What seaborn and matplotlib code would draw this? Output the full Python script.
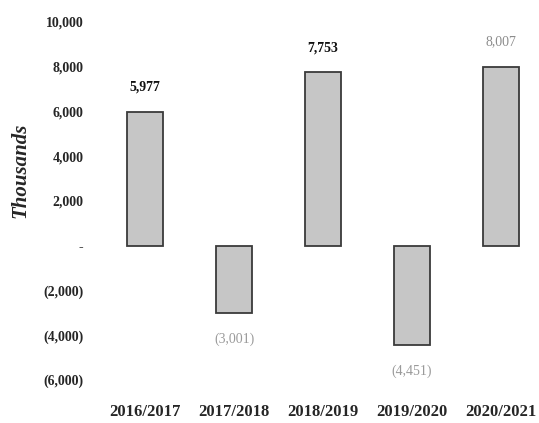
import matplotlib
matplotlib.use("Agg")
import matplotlib.pyplot as plt
import seaborn as sns
import pandas as pd

# Year-on-year change, in thousands
seasons = ["2016/2017", "2017/2018", "2018/2019", "2019/2020", "2020/2021"]
changes = [5977, -3001, 7753, -4451, 8007]
label_colors = ["#111111", "#9a9a9a", "#111111", "#9a9a9a", "#8c8c8c"]
label_weights = ["bold", "normal", "bold", "normal", "normal"]

yticks = [10000, 8000, 6000, 4000, 2000, 0, -2000, -4000, -6000]
ytick_labels = ["10,000", "8,000", "6,000", "4,000", "2,000", "-",
                "(2,000)", "(4,000)", "(6,000)"]

df = pd.DataFrame({"season": seasons, "change": changes})

sns.set_style("white")
plt.rcParams["font.family"] = ["Liberation Serif", "DejaVu Serif"]

fig = plt.figure(figsize=(5.39, 4.23), dpi=100)
ax = fig.add_axes([0.170, 0.1017, 0.8255, 0.8463])

sns.barplot(data=df, x="season", y="change", ax=ax, width=0.4,
            color="#c6c6c6", edgecolor="#3a3a3a", linewidth=1.3,
            saturation=1)

ax.set_xlim(-0.6, 4.4)
ax.set_ylim(-6000, 10000)
ax.set_yticks(yticks)
ax.set_yticklabels(ytick_labels, fontsize=10, fontweight="bold")
ax.tick_params(axis="y", length=0, pad=6)
ax.tick_params(axis="x", length=0, pad=17)
for lab in ax.get_xticklabels():
    lab.set_fontsize(12)
    lab.set_fontweight("bold")

ax.set_xlabel("")
ax.set_ylabel("Thousands", fontsize=15, fontweight="bold", style="italic")
ax.yaxis.set_label_coords(-0.138, 0.587)

for s in ax.spines.values():
    s.set_visible(False)

for i, (v, c, w) in enumerate(zip(changes, label_colors, label_weights)):
    txt = f"{v:,}" if v >= 0 else f"({abs(v):,})"
    if v >= 0:
        ax.annotate(txt, (i, v), xytext=(0, 13), textcoords="offset points",
                    ha="center", va="bottom", fontsize=10, color=c,
                    fontweight=w)
    else:
        ax.annotate(txt, (i, v), xytext=(0, -14), textcoords="offset points",
                    ha="center", va="top", fontsize=10, color=c,
                    fontweight=w)

fig.savefig("out.png", dpi=100)
